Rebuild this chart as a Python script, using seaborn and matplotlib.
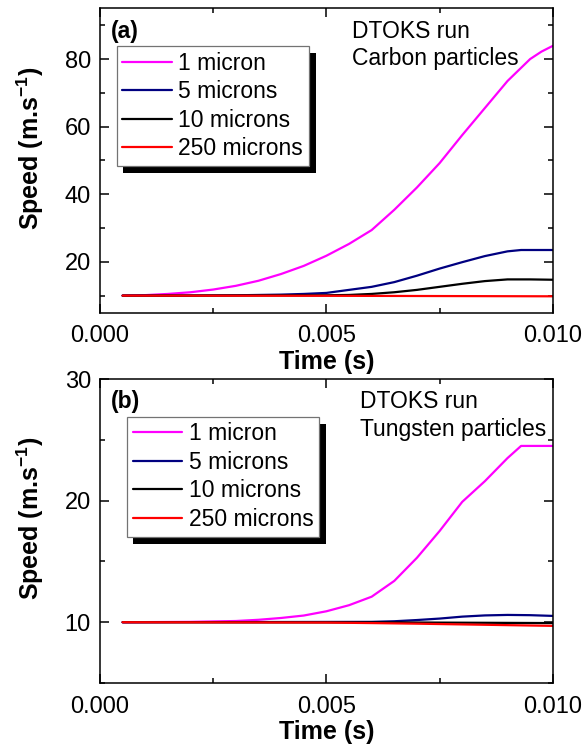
import numpy as np
import pandas as pd
import matplotlib
matplotlib.use("Agg")
import matplotlib.pyplot as plt
from matplotlib.patches import Rectangle
from matplotlib.ticker import MultipleLocator, FormatStrFormatter
import seaborn as sns

# ---- data -------------------------------------------------------------
sizes = ["1 micron", "5 microns", "10 microns", "250 microns"]
colors = ["#FF00FF", "#000080", "#000000", "#FF0000"]

# Carbon particles
t_c1 = [0.0005, 0.001, 0.0015, 0.002, 0.0025, 0.003, 0.0035, 0.004, 0.0045,
        0.005, 0.0055, 0.006, 0.0065, 0.007, 0.0075, 0.008, 0.0085, 0.009,
        0.0095, 0.00975, 0.01]
v_c1 = [10.0, 10.15, 10.5, 11.0, 11.8, 12.9, 14.4, 16.4, 18.8,
        21.8, 25.3, 29.4, 35.4, 42.0, 49.2, 57.5, 65.5, 73.5,
        80.0, 82.2, 83.9]
t_c5 = [0.0005, 0.002, 0.003, 0.004, 0.0045, 0.005, 0.0055, 0.006, 0.0065,
        0.007, 0.0075, 0.008, 0.0085, 0.009, 0.0093, 0.01]
v_c5 = [10.0, 10.0, 10.1, 10.3, 10.5, 10.8, 11.7, 12.6, 14.0,
        15.9, 18.0, 19.9, 21.7, 23.1, 23.5, 23.5]
t_c10 = [0.0005, 0.005, 0.0055, 0.006, 0.0065, 0.007, 0.0075, 0.008, 0.0085,
         0.009, 0.0095, 0.01]
v_c10 = [10.0, 10.1, 10.2, 10.5, 11.0, 11.7, 12.6, 13.5, 14.3,
         14.8, 14.8, 14.7]
t_c250 = [0.0005, 0.005, 0.01]
v_c250 = [10.0, 9.95, 9.8]

# Tungsten particles
t_w1 = [0.0005, 0.002, 0.003, 0.0035, 0.004, 0.0045, 0.005, 0.0055, 0.006,
        0.0065, 0.007, 0.0075, 0.008, 0.0085, 0.009, 0.0093, 0.01]
v_w1 = [10.0, 10.03, 10.1, 10.2, 10.35, 10.55, 10.9, 11.4, 12.1,
        13.4, 15.3, 17.5, 19.9, 21.6, 23.5, 24.5, 24.5]
t_w5 = [0.0005, 0.006, 0.0065, 0.007, 0.0075, 0.008, 0.0085, 0.009, 0.0095, 0.01]
v_w5 = [10.0, 10.03, 10.08, 10.18, 10.3, 10.46, 10.56, 10.6, 10.58, 10.52]
t_w10 = [0.0005, 0.006, 0.008, 0.01]
v_w10 = [10.0, 9.99, 9.96, 9.93]
t_w250 = [0.0005, 0.005, 0.006, 0.007, 0.008, 0.009, 0.01]
v_w250 = [10.0, 9.97, 9.93, 9.88, 9.82, 9.76, 9.7]

carbon = [(t_c1, v_c1), (t_c5, v_c5), (t_c10, v_c10), (t_c250, v_c250)]
tungsten = [(t_w1, v_w1), (t_w5, v_w5), (t_w10, v_w10), (t_w250, v_w250)]


def long_frame(series):
    parts = []
    for name, (t, v) in zip(sizes, series):
        parts.append(pd.DataFrame({"Time": t, "Speed": v, "Size": name}))
    return pd.concat(parts, ignore_index=True)


# ---- style ------------------------------------------------------------
sns.set_theme(style="ticks")
plt.rcParams["font.family"] = ["Liberation Sans", "DejaVu Sans"]
plt.rcParams["mathtext.fontset"] = "custom"
plt.rcParams["mathtext.rm"] = "Liberation Sans"
plt.rcParams["mathtext.bf"] = "Liberation Sans:bold"
for key in ("text.color", "axes.labelcolor", "xtick.color", "ytick.color",
            "axes.edgecolor"):
    plt.rcParams[key] = "black"

TICK_FS = 17
LABEL_FS = 18
TEXT_FS = 16.5

fig = plt.figure(figsize=(5.82, 7.45), dpi=100)
ax_a = fig.add_axes([0.1718, 0.5805, 0.778, 0.4083])
ax_b = fig.add_axes([0.1718, 0.0832, 0.778, 0.4080])

panels = [
    (ax_a, carbon, (5, 95), 20, 10, "(a)", "Carbon particles", 0.556, 0.0375),
    (ax_b, tungsten, (5, 30), 10, 5, "(b)", "Tungsten particles", 0.574, 0.06),
]

for ax, series, ylim, ymaj, ymin, tag, material, tx, lx in panels:
    df = long_frame(series)
    sns.lineplot(data=df, x="Time", y="Speed", hue="Size", hue_order=sizes,
                 palette=colors, estimator=None, sort=False, linewidth=1.6,
                 legend=False, ax=ax)
    ax.set_xlim(0, 0.01)
    ax.set_ylim(*ylim)
    ax.xaxis.set_major_locator(MultipleLocator(0.005))
    ax.xaxis.set_minor_locator(MultipleLocator(0.0025))
    ax.xaxis.set_major_formatter(FormatStrFormatter("%.3f"))
    ax.yaxis.set_major_locator(MultipleLocator(ymaj))
    ax.yaxis.set_minor_locator(MultipleLocator(ymin))
    ax.tick_params(which="both", direction="in", top=True, right=True,
                   width=1.1, color="black", labelsize=TICK_FS)
    ax.tick_params(which="major", length=6.5)
    ax.tick_params(which="minor", length=3.3)
    ax.tick_params(axis="x", which="both", pad=9)
    ax.tick_params(axis="y", which="both", pad=6.5)
    ax.set_xlabel("Time (s)", fontsize=LABEL_FS, fontweight="bold", labelpad=2)
    ax.set_ylabel(r"Speed (m.s$^{\mathregular{-1}}$)", fontsize=LABEL_FS,
                  fontweight="bold")
    ax.yaxis.set_label_coords(-0.12, 0.541)
    for s in ax.spines.values():
        s.set_color("black")
        s.set_linewidth(1.1)

    ax.text(0.024, 0.925, tag, transform=ax.transAxes, fontsize=TEXT_FS,
            fontweight="bold", va="center", ha="left")
    ax.text(tx, 0.925, "DTOKS run", transform=ax.transAxes, fontsize=TEXT_FS,
            va="center", ha="left")
    ax.text(tx, 0.834, material, transform=ax.transAxes, fontsize=TEXT_FS,
            va="center", ha="left")

    handles = ax.get_lines()[:4]
    leg = ax.legend(handles, sizes, loc="upper left",
                    bbox_to_anchor=(lx, 0.876), borderaxespad=0,
                    fontsize=TEXT_FS, frameon=True, fancybox=False,
                    framealpha=1, edgecolor="0.45", handlelength=2.14,
                    handletextpad=0.3, labelspacing=0.245, borderpad=0.24)
    leg.get_frame().set_linewidth(0.9)
    leg.set_zorder(6)

# drop shadows behind the legends
fig.canvas.draw()
for ax in (ax_a, ax_b):
    leg = ax.get_legend()
    bb = leg.get_frame().get_window_extent()
    inv = ax.transAxes.inverted()
    (x0, y0) = inv.transform((bb.x0 + 6, bb.y0 - 7))
    (x1, y1) = inv.transform((bb.x1 + 7, bb.y1 - 7))
    ax.add_patch(Rectangle((x0, y0), x1 - x0, y1 - y0, transform=ax.transAxes,
                           facecolor="black", edgecolor="none", zorder=5.5,
                           clip_on=False))

fig.savefig("out.png", dpi=100)
